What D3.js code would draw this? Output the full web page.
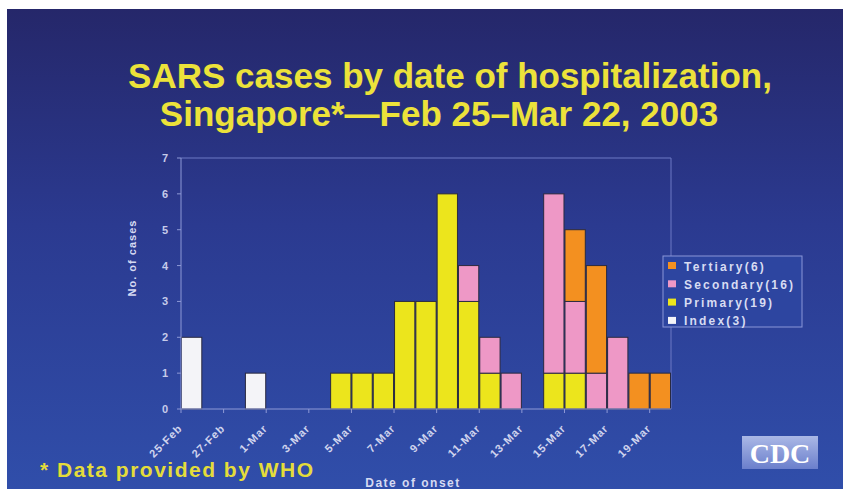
<!DOCTYPE html>
<html>
<head>
<meta charset="utf-8">
<script src="https://cdn.jsdelivr.net/npm/d3@7"></script>
<style>
  body { margin: 0; background: #fff; }
  svg { display: block; font-family: "Liberation Sans", Arial, sans-serif; }
</style>
</head>
<body>
<div id="chart"></div>
<script>
// one entry per day of hospitalization
var dates = ["25-Feb","26-Feb","27-Feb","28-Feb","1-Mar","2-Mar","3-Mar","4-Mar","5-Mar","6-Mar","7-Mar","8-Mar",
	"9-Mar","10-Mar","11-Mar","12-Mar","13-Mar","14-Mar","15-Mar","16-Mar","17-Mar","18-Mar","19-Mar"];
var indexCases = [2,0,0,1,0,0,0,0,0,0,0,0,0,0,0,0,0,0,0,0,0,0,0];
var primary    = [0,0,0,0,0,0,0,1,1,1,3,3,6,3,1,0,0,1,1,0,0,0,0];
var secondary  = [0,0,0,0,0,0,0,0,0,0,0,0,0,1,1,1,0,5,2,1,2,0,0];
var tertiary   = [0,0,0,0,0,0,0,0,0,0,0,0,0,0,0,0,0,0,2,3,0,1,1];

var seriesKeys = ["index","primary","secondary","tertiary"];
var legendLabels = ["Tertiary(6)","Secondary(16)","Primary(19)","Index(3)"];
var xTickLabels = ["25-Feb","27-Feb","1-Mar","3-Mar","5-Mar","7-Mar","9-Mar","11-Mar","13-Mar","15-Mar","17-Mar","19-Mar"];
var yTicks = [0,1,2,3,4,5,6,7];

var colors = {index: "#f4f4f8", primary: "#ece51c", secondary: "#ee98c6", tertiary: "#f39020"};

var W = 843, H = 489;
var plot = {left: 181, right: 671, top: 158, bottom: 409};

var svg = d3.select("#chart").append("svg")
	.attr("width", W)
	.attr("height", H);

var defs = svg.append("defs");
var bg = defs.append("linearGradient").attr("id", "bg")
	.attr("x1", 0).attr("y1", 0).attr("x2", 0).attr("y2", 1);
bg.append("stop").attr("offset", "0%").attr("stop-color", "#25276a");
bg.append("stop").attr("offset", "45%").attr("stop-color", "#2b3a90");
bg.append("stop").attr("offset", "100%").attr("stop-color", "#304eaa");

var logoGrad = defs.append("linearGradient").attr("id", "logo")
	.attr("x1", 0).attr("y1", 0).attr("x2", 0).attr("y2", 1);
logoGrad.append("stop").attr("offset", "0%").attr("stop-color", "#aab8e6");
logoGrad.append("stop").attr("offset", "100%").attr("stop-color", "#6b7fcc");

// slide background (white margin at top/left like the scan)
svg.append("rect")
	.attr("x", 7).attr("y", 9)
	.attr("width", W - 7).attr("height", H - 9)
	.style("fill", "url(#bg)");

// title
var title = svg.append("text")
	.attr("text-anchor", "middle")
	.style("fill", "#ece23a")
	.style("font-weight", "bold")
	.style("font-size", "35px");
title.append("tspan").attr("x", 450).attr("y", 88).text("SARS cases by date of hospitalization,");
title.append("tspan").attr("x", 439).attr("y", 126).text("Singapore*\u2014Feb 25\u2013Mar 22, 2003");

// scales
var x = d3.scaleBand()
	.domain(dates)
	.range([plot.left, plot.right])
	.padding(0);

var y = d3.scaleLinear()
	.domain([0, 7])
	.range([plot.bottom, plot.top]);

// build table for stacking
var table = dates.map(function (d, i) {
	return {date: d, index: indexCases[i], primary: primary[i], secondary: secondary[i], tertiary: tertiary[i]};
});
var stacked = d3.stack().keys(seriesKeys)(table);

var axisColor = "#8e99d6";

// plot frame (top and right)
svg.append("path")
	.attr("d", "M" + plot.left + "," + y(7) + "H" + plot.right + "V" + plot.bottom)
	.style("fill", "none")
	.style("stroke", "#6c79c4")
	.style("stroke-width", 1);

// bars
svg.selectAll(".series")
	.data(stacked)
	.enter().append("g")
	.attr("class", "series")
	.style("fill", function (d) { return colors[d.key]; })
	.selectAll("rect")
	.data(function (d) { return d.filter(function (p) { return p[1] > p[0]; }); })
	.enter().append("rect")
	.attr("x", function (d) { return x(d.data.date) + 0.5; })
	.attr("y", function (d) { return y(d[1]); })
	.attr("width", x.bandwidth() - 1)
	.attr("height", function (d) { return y(d[0]) - y(d[1]); })
	.style("stroke", "#2a2a40")
	.style("stroke-width", 1);

// y axis
var yAxis = svg.append("g");
yAxis.append("line")
	.attr("x1", plot.left).attr("x2", plot.left)
	.attr("y1", y(7)).attr("y2", y(0))
	.style("stroke", axisColor);
yAxis.selectAll(".ytick")
	.data(yTicks)
	.enter().append("line")
	.attr("x1", plot.left - 4).attr("x2", plot.left)
	.attr("y1", function (d) { return y(d); })
	.attr("y2", function (d) { return y(d); })
	.style("stroke", axisColor);
yAxis.selectAll(".ylab")
	.data(yTicks)
	.enter().append("text")
	.attr("x", plot.left - 13)
	.attr("y", function (d) { return y(d) + 4; })
	.attr("text-anchor", "end")
	.style("fill", "#c6cbea")
	.style("font-size", "11px")
	.style("font-weight", "bold")
	.text(function (d) { return d; });

svg.append("text")
	.attr("transform", "translate(136,258) rotate(-90)")
	.attr("text-anchor", "middle")
	.style("fill", "#d6daf2")
	.style("font-size", "11px")
	.style("font-weight", "bold")
	.style("letter-spacing", "1px")
	.text("No. of cases");

// x axis
var xAxis = svg.append("g");
xAxis.append("line")
	.attr("x1", plot.left).attr("x2", plot.right)
	.attr("y1", plot.bottom).attr("y2", plot.bottom)
	.style("stroke", axisColor);
xAxis.selectAll(".xtick")
	.data(xTickLabels)
	.enter().append("line")
	.attr("x1", function (d) { return x(d); })
	.attr("x2", function (d) { return x(d); })
	.attr("y1", plot.bottom).attr("y2", plot.bottom + 4)
	.style("stroke", axisColor);
xAxis.selectAll(".xlab")
	.data(xTickLabels)
	.enter().append("text")
	.attr("transform", function (d) { return "translate(" + (x(d) + 2) + "," + (plot.bottom + 20) + ") rotate(-45)"; })
	.attr("text-anchor", "end")
	.style("fill", "#d0d4ee")
	.style("font-size", "11px")
	.style("font-weight", "bold")
	.style("letter-spacing", "1px")
	.text(function (d) { return d; });

svg.append("text")
	.attr("x", 413).attr("y", 487)
	.attr("text-anchor", "middle")
	.style("fill", "#d6daf2")
	.style("font-size", "12px")
	.style("font-weight", "bold")
	.style("letter-spacing", "1.5px")
	.text("Date of onset");

// legend
var legend = svg.append("g").attr("transform", "translate(663,256)");
legend.append("rect")
	.attr("width", 139).attr("height", 71)
	.style("fill", "#2d45a0")
	.style("stroke", "#8a96d8")
	.style("stroke-width", 1);
var legendKeys = ["tertiary","secondary","primary","index"];
var item = legend.selectAll(".item")
	.data(legendKeys)
	.enter().append("g")
	.attr("transform", function (d, i) { return "translate(0," + (10 + i * 18.3) + ")"; });
item.append("rect")
	.attr("x", 5).attr("y", -4)
	.attr("width", 8).attr("height", 7)
	.style("fill", function (d) { return colors[d]; });
item.append("text")
	.attr("x", 21).attr("y", 4.5)
	.style("fill", "#d8dcf2")
	.style("font-size", "12px")
	.style("font-weight", "bold")
	.style("letter-spacing", "2.2px")
	.text(function (d, i) { return legendLabels[i]; });

// footnote
svg.append("text")
	.attr("x", 40).attr("y", 477)
	.style("fill", "#e4dc3a")
	.style("font-size", "21px")
	.style("font-weight", "bold")
	.style("letter-spacing", "1.5px")
	.text("* Data provided by WHO");

// CDC logo
svg.append("rect")
	.attr("x", 742).attr("y", 436)
	.attr("width", 76).attr("height", 33)
	.style("fill", "url(#logo)");
svg.append("text")
	.attr("x", 780).attr("y", 463)
	.attr("text-anchor", "middle")
	.style("fill", "#ffffff")
	.style("font-family", "'Liberation Serif', 'DejaVu Serif', serif")
	.style("font-size", "28px")
	.style("font-weight", "bold")
	.text("CDC");
</script>
</body>
</html>
